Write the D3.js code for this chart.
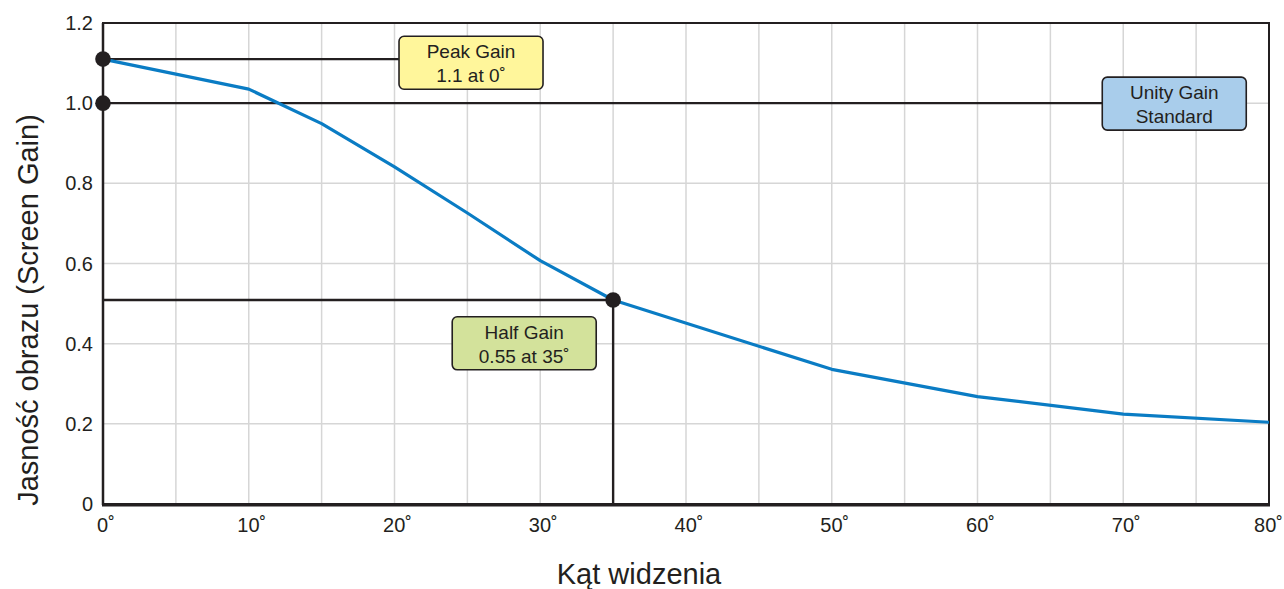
<!DOCTYPE html>
<html>
<head>
<meta charset="utf-8">
<script src="https://cdn.jsdelivr.net/npm/d3@7"></script>
<style>
  body { margin: 0; background: #fff; }
  svg { display: block; font-family: "Liberation Sans", Arial, sans-serif; }
  .grid line { stroke: #d6d6d6; stroke-width: 1.5; }
  .tick-label { font-size: 20px; fill: #231f20; }
  .title { font-size: 29px; fill: #231f20; }
  .note text { font-size: 19px; fill: #231f20; }
</style>
</head>
<body>
<div class="artboard"></div>
<script>
// angle (deg) vs screen gain
var angles = [0, 10, 15, 20, 25, 30, 35, 50, 60, 70, 80];
var gains = [1.11, 1.035, 0.949, 0.841, 0.726, 0.607, 0.509, 0.336, 0.268, 0.224, 0.204];

var xTicks = [0, 10, 20, 30, 40, 50, 60, 70, 80];
var xGrid = [5, 10, 15, 20, 25, 30, 35, 40, 45, 50, 55, 60, 65, 70, 75];
var yTicks = [0, 0.2, 0.4, 0.6, 0.8, 1.0, 1.2];
var yTickLabels = ['0', '0.2', '0.4', '0.6', '0.8', '1.0', '1.2'];
var yGrid = [0.2, 0.4, 0.6, 0.8, 1.0];

var notes = [
  { lines: ['Peak Gain', '1.1 at 0˚'], x: 0, y: 1.11, fill: '#fff69b' },
  { lines: ['Unity Gain', 'Standard'], x: 0, y: 1.0, fill: '#a9cdeb' },
  { lines: ['Half Gain', '0.55 at 35˚'], x: 35, y: 0.509, fill: '#d3e29b' }
];

var W = 1284, H = 589;
var m = { top: 23, right: 15, bottom: 85, left: 103 };
var width = W - m.left - m.right;
var height = H - m.top - m.bottom;
var ink = '#231f20';

var x = d3.scaleLinear().domain([0, 80]).range([0, width]);
var y = d3.scaleLinear().domain([0, 1.2]).range([height, 0]);

var svg = d3.select('.artboard').append('svg')
  .attr('width', W).attr('height', H);
var g = svg.append('g').attr('transform', 'translate(' + m.left + ',' + m.top + ')');

// grid
var grid = g.append('g').attr('class', 'grid');
grid.selectAll('.gx').data(xGrid).enter().append('line')
  .attr('x1', function(d) { return x(d); }).attr('x2', function(d) { return x(d); })
  .attr('y1', 0).attr('y2', height);
grid.selectAll('.gy').data(yGrid).enter().append('line')
  .attr('x1', 0).attr('x2', width)
  .attr('y1', function(d) { return y(d); }).attr('y2', function(d) { return y(d); });

// frame
g.append('rect')
  .attr('width', width).attr('height', height)
  .attr('fill', 'none').attr('stroke', ink).attr('stroke-width', 2);
g.append('line')
  .attr('x1', -1).attr('x2', width + 1)
  .attr('y1', height + 1).attr('y2', height + 1)
  .attr('stroke', ink).attr('stroke-width', 3);
g.append('line')
  .attr('x1', 0).attr('x2', 0)
  .attr('y1', 0).attr('y2', height + 1)
  .attr('stroke', ink).attr('stroke-width', 2.5);

// tick labels
g.selectAll('.ylab').data(yTicks).enter().append('text')
  .attr('class', 'tick-label')
  .attr('x', -10)
  .attr('y', function(d) { return y(d) + 7; })
  .attr('text-anchor', 'end')
  .text(function(d, i) { return yTickLabels[i]; });

g.selectAll('.xlab').data(xTicks).enter().append('text')
  .attr('class', 'tick-label')
  .attr('x', function(d, i) { return i === xTicks.length - 1 ? W - m.left - 1 : x(d) + 3; })
  .attr('y', height + 28)
  .attr('text-anchor', function(d, i) { return i === xTicks.length - 1 ? 'end' : 'middle'; })
  .text(function(d) { return d + '˚'; });

// axis titles
svg.append('text').attr('class', 'title')
  .attr('x', 639).attr('y', 584)
  .attr('text-anchor', 'middle')
  .text('Kąt widzenia');
svg.append('text').attr('class', 'title')
  .attr('transform', 'translate(38,310) rotate(-90)')
  .attr('text-anchor', 'middle')
  .text('Jasność obrazu (Screen Gain)');

// reference lines
var refs = g.append('g').attr('stroke', ink).attr('stroke-width', 2.4);
refs.append('line').attr('x1', 0).attr('x2', x(20.3)).attr('y1', y(notes[0].y)).attr('y2', y(notes[0].y));
refs.append('line').attr('x1', 0).attr('x2', x(68.6)).attr('y1', y(notes[1].y)).attr('y2', y(notes[1].y));
refs.append('line').attr('x1', 0).attr('x2', x(notes[2].x)).attr('y1', y(notes[2].y)).attr('y2', y(notes[2].y));
refs.append('line').attr('x1', x(notes[2].x)).attr('x2', x(notes[2].x)).attr('y1', y(notes[2].y)).attr('y2', height);

// curve
var line = d3.line()
  .x(function(d, i) { return x(angles[i]); })
  .y(function(d) { return y(d); });
g.append('path')
  .datum(gains)
  .attr('fill', 'none')
  .attr('stroke', '#0a7cc4')
  .attr('stroke-width', 3.2)
  .attr('stroke-linejoin', 'round')
  .attr('d', line);

// dots
g.selectAll('.dot').data(notes).enter().append('circle')
  .attr('cx', function(d) { return x(d.x); })
  .attr('cy', function(d) { return y(d.y); })
  .attr('r', 7.8)
  .attr('fill', ink);

// note boxes: [centre angle, top value]
var boxPos = [[25.25, 1.167], [73.5, 1.065], [28.9, 0.467]];
var boxW = 144, boxH = 53;
notes.forEach(function(n, i) {
  var cx = x(boxPos[i][0]);
  var top = y(boxPos[i][1]);
  var box = g.append('g').attr('class', 'note');
  box.append('rect')
    .attr('x', cx - boxW / 2).attr('y', top)
    .attr('width', boxW).attr('height', boxH)
    .attr('rx', 5)
    .attr('fill', n.fill)
    .attr('stroke', ink).attr('stroke-width', 1.6);
  n.lines.forEach(function(t, j) {
    box.append('text')
      .attr('x', cx).attr('y', top + 22 + j * 24)
      .attr('text-anchor', 'middle')
      .text(t);
  });
});
</script>
</body>
</html>
